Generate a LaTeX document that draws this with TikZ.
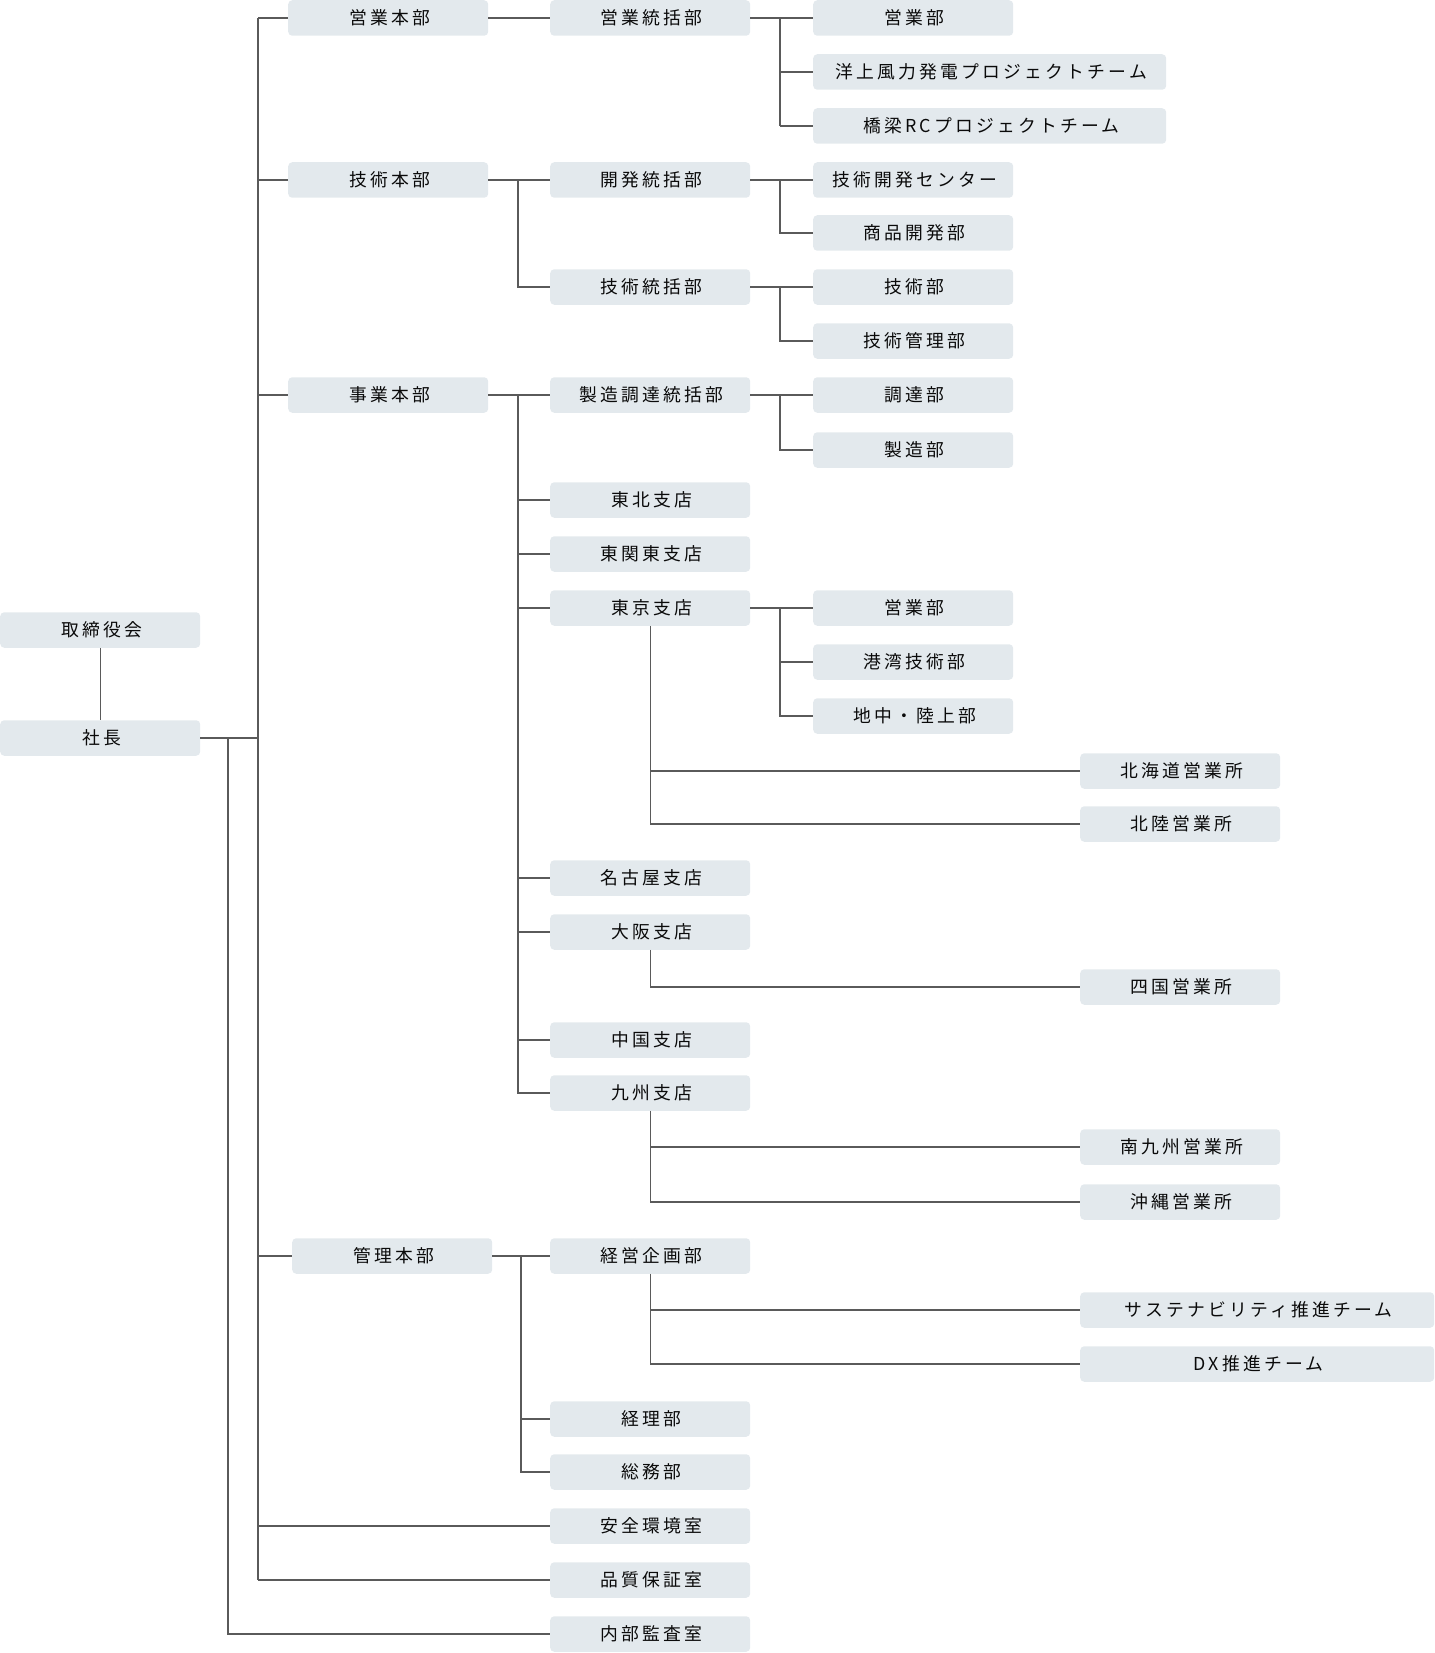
\documentclass[tikz,border=0pt]{standalone}
\usepackage{fontspec}
\newfontfamily\jpfont[LetterSpace=18]{Noto Sans CJK JP}
\definecolor{boxc}{HTML}{E3E9ED}
\definecolor{linec}{HTML}{5A5A5A}
\definecolor{textc}{HTML}{0A0A0A}
\begin{document}
\begin{tikzpicture}[x=1pt,y=-1pt,
  orgbox/.style={fill=boxc, rounded corners=4pt, minimum width=200pt, minimum height=35.5pt,
    inner sep=0pt, anchor=west, font=\jpfont\fontsize{17.8pt}{20pt}\selectfont, text=textc,
    execute at begin node={\kern3.1pt}},
  widebox/.style={orgbox, minimum width=354pt},
  conn/.style={draw=linec, line width=1.3pt}]
\useasboundingbox (0,0) rectangle (1434,1653);

% column 0
\node[orgbox] (torishimari) at (0,630) {取締役会};
\node[orgbox] (shacho) at (0,738) {社長};

% column 1
\node[orgbox] (eigyoHQ) at (288,18) {営業本部};
\node[orgbox] (gijutsuHQ) at (288,180) {技術本部};
\node[orgbox] (jigyoHQ) at (288,395) {事業本部};
\node[orgbox] (kanriHQ) at (292,1256) {管理本部};

% column 2
\node[orgbox] (eigyoTK) at (550,18) {営業統括部};
\node[orgbox] (kaihatsuTK) at (550,180) {開発統括部};
\node[orgbox] (gijutsuTK) at (550,287) {技術統括部};
\node[orgbox] (seizoTK) at (550,395) {製造調達統括部};
\node[orgbox] (tohoku) at (550,500) {東北支店};
\node[orgbox] (higashikanto) at (550,554) {東関東支店};
\node[orgbox] (tokyo) at (550,608) {東京支店};
\node[orgbox] (nagoya) at (550,878) {名古屋支店};
\node[orgbox] (osaka) at (550,932) {大阪支店};
\node[orgbox] (chugoku) at (550,1040) {中国支店};
\node[orgbox] (kyushu) at (550,1093) {九州支店};
\node[orgbox] (keiei) at (550,1256) {経営企画部};
\node[orgbox] (keiri) at (550,1419) {経理部};
\node[orgbox] (somu) at (550,1472) {総務部};
\node[orgbox] (anzen) at (550,1526) {安全環境室};
\node[orgbox] (hinshitsu) at (550,1580) {品質保証室};
\node[orgbox] (naibu) at (550,1634) {内部監査室};

% column 3
\node[orgbox] (eigyobu) at (813,18) {営業部};
\node[orgbox, minimum width=353pt] (yojo) at (813,72) {洋上風力発電プロジェクトチーム};
\node[orgbox, minimum width=353pt] (kyoryo) at (813,126) {橋梁RCプロジェクトチーム};
\node[orgbox] (gikaicenter) at (813,180) {技術開発センター};
\node[orgbox] (shohin) at (813,233) {商品開発部};
\node[orgbox] (gijutsubu) at (813,287) {技術部};
\node[orgbox] (gikanri) at (813,341) {技術管理部};
\node[orgbox] (chotatsu) at (813,395) {調達部};
\node[orgbox] (seizobu) at (813,450) {製造部};
\node[orgbox] (tkeigyo) at (813,608) {営業部};
\node[orgbox] (kowan) at (813,662) {港湾技術部};
\node[orgbox] (chichu) at (813,716) {地中・陸上部};

% column 4
\node[orgbox] (hokkaido) at (1080,771) {北海道営業所};
\node[orgbox] (hokuriku) at (1080,824) {北陸営業所};
\node[orgbox] (shikoku) at (1080,987) {四国営業所};
\node[orgbox] (minamikyushu) at (1080,1147) {南九州営業所};
\node[orgbox] (okinawa) at (1080,1202) {沖縄営業所};
\node[widebox] (sustain) at (1080,1310) {サステナビリティ推進チーム};
\node[widebox] (dx) at (1080,1364) {DX推進チーム};

% trunk coordinates
\coordinate (t0) at (228,0);
\coordinate (t1) at (258,0);
\coordinate (t2) at (518,0);
\coordinate (t2k) at (521,0);
\coordinate (t3) at (780,0);

% board to president
\draw[conn] (torishimari.south) -- (shacho.north);

% president to headquarters
\draw[conn] (shacho.east) -- (shacho.east -| t1);
\draw[conn] (eigyoHQ.west -| t1) -- (hinshitsu.west -| t1);
\draw[conn] (eigyoHQ.west -| t1) -- (eigyoHQ.west);
\draw[conn] (gijutsuHQ.west -| t1) -- (gijutsuHQ.west);
\draw[conn] (jigyoHQ.west -| t1) -- (jigyoHQ.west);
\draw[conn] (kanriHQ.west -| t1) -- (kanriHQ.west);
\draw[conn] (anzen.west -| t1) -- (anzen.west);
\draw[conn] (hinshitsu.west -| t1) -- (hinshitsu.west);
\draw[conn] (shacho.east -| t0) |- (naibu.west);

% 営業本部
\draw[conn] (eigyoHQ.east) -- (eigyoTK.west);
\draw[conn] (eigyoTK.east) -- (eigyoTK.east -| t3);
\draw[conn] (eigyobu.west -| t3) -- (kyoryo.west -| t3);
\draw[conn] (eigyobu.west -| t3) -- (eigyobu.west);
\draw[conn] (yojo.west -| t3) -- (yojo.west);
\draw[conn] (kyoryo.west -| t3) -- (kyoryo.west);

% 技術本部
\draw[conn] (gijutsuHQ.east) -- (kaihatsuTK.west);
\draw[conn] (gijutsuHQ.east -| t2) |- (gijutsuTK.west);
\draw[conn] (kaihatsuTK.east) -- (gikaicenter.west);
\draw[conn] (kaihatsuTK.east -| t3) |- (shohin.west);
\draw[conn] (gijutsuTK.east) -- (gijutsubu.west);
\draw[conn] (gijutsuTK.east -| t3) |- (gikanri.west);

% 事業本部
\draw[conn] (jigyoHQ.east) -- (seizoTK.west);
\draw[conn] (jigyoHQ.east -| t2) |- (kyushu.west);
\draw[conn] (tohoku.west -| t2) -- (tohoku.west);
\draw[conn] (higashikanto.west -| t2) -- (higashikanto.west);
\draw[conn] (tokyo.west -| t2) -- (tokyo.west);
\draw[conn] (nagoya.west -| t2) -- (nagoya.west);
\draw[conn] (osaka.west -| t2) -- (osaka.west);
\draw[conn] (chugoku.west -| t2) -- (chugoku.west);
\draw[conn] (seizoTK.east) -- (chotatsu.west);
\draw[conn] (seizoTK.east -| t3) |- (seizobu.west);

% 東京支店
\draw[conn] (tokyo.east) -- (tkeigyo.west);
\draw[conn] (tokyo.east -| t3) |- (chichu.west);
\draw[conn] (kowan.west -| t3) -- (kowan.west);
\draw[conn] (tokyo.south) |- (hokuriku.west);
\draw[conn] (hokkaido.west -| tokyo.south) -- (hokkaido.west);

% 大阪支店
\draw[conn] (osaka.south) |- (shikoku.west);

% 九州支店
\draw[conn] (kyushu.south) |- (okinawa.west);
\draw[conn] (minamikyushu.west -| kyushu.south) -- (minamikyushu.west);

% 管理本部
\draw[conn] (kanriHQ.east) -- (keiei.west);
\draw[conn] (kanriHQ.east -| t2k) |- (somu.west);
\draw[conn] (keiri.west -| t2k) -- (keiri.west);
\draw[conn] (keiei.south) |- (dx.west);
\draw[conn] (sustain.west -| keiei.south) -- (sustain.west);
\end{tikzpicture}
\end{document}
